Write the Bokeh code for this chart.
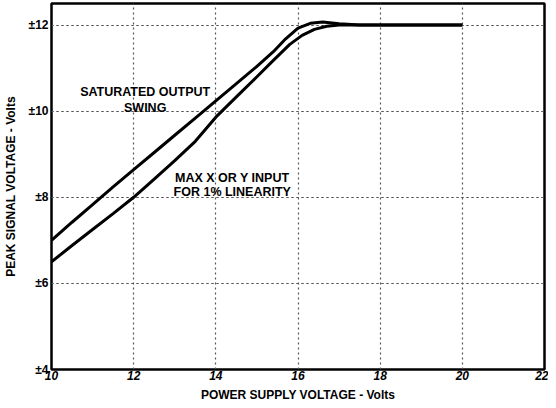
from bokeh.plotting import figure
from bokeh.models import FixedTicker, Range1d
from bokeh.core.properties import value
from bokeh.embed import file_html
from bokeh.resources import INLINE

# Data
supply_v = [10, 10.5, 11, 11.5, 12, 12.5, 13, 13.5, 14, 14.5, 15, 15.4, 15.7,
            16.0, 16.3, 16.6, 17.0, 17.5, 20.0]
saturated_swing = [7.0, 7.42, 7.83, 8.24, 8.64, 9.04, 9.44, 9.84, 10.24, 10.64,
                   11.04, 11.38, 11.68, 11.93, 12.04, 12.07, 12.03, 12.0, 12.0]

supply_v2 = [10, 10.5, 11, 11.5, 12, 12.5, 13, 13.5, 14, 14.5, 15, 15.4, 15.8,
             16.1, 16.4, 16.7, 17.0, 17.5, 20.0]
max_input = [6.5, 6.88, 7.25, 7.62, 8.0, 8.42, 8.85, 9.3, 9.86, 10.33, 10.8,
             11.18, 11.55, 11.76, 11.9, 11.97, 12.0, 12.0, 12.0]

x_ticks = [10, 12, 14, 16, 18, 20, 22]
y_ticks = [4, 6, 8, 10, 12]
y_tick_labels = {4: "±4", 6: "±6", 8: "±8", 10: "±10", 12: "±12"}

label_texts = ["SATURATED OUTPUT", "SWING", "MAX X OR Y INPUT", "FOR 1% LINEARITY"]
label_x = [12.28, 12.28, 14.4, 14.4]
label_y = [10.44, 10.08, 8.44, 8.12]

FONT = "Liberation Sans"

p = figure(width=548, height=404, output_backend="svg", toolbar_location=None,
           x_range=Range1d(10, 22), y_range=Range1d(4, 12.5),
           min_border_left=44, min_border_right=4, min_border_top=3, min_border_bottom=20)
p.background_fill_color = "white"
p.border_fill_color = "white"
p.outline_line_color = "black"
p.outline_line_width = 2.5

for ax in (p.xaxis[0], p.yaxis[0]):
    ax.axis_line_color = None
    ax.major_tick_line_color = None
    ax.minor_tick_line_color = None
    ax.major_label_text_font = FONT
    ax.major_label_text_font_style = "bold"
    ax.major_label_text_font_size = "12px"
    ax.major_label_text_color = "black"
    ax.axis_label_text_font = FONT
    ax.axis_label_text_font_style = "bold"
    ax.axis_label_text_font_size = "12px"
    ax.axis_label_text_color = "black"

xt = FixedTicker(ticks=x_ticks)
yt = FixedTicker(ticks=y_ticks)
p.xaxis.ticker = xt
p.yaxis.ticker = yt
p.xgrid.ticker = xt
p.ygrid.ticker = yt
p.yaxis.major_label_overrides = y_tick_labels
p.xaxis.major_label_text_font_style = "bold italic"
p.xaxis.major_label_standoff = 1
p.yaxis.major_label_standoff = 3
p.xaxis.major_tick_out = 0
p.yaxis.major_tick_out = 0
p.xaxis.axis_label = "POWER SUPPLY VOLTAGE - Volts"
p.yaxis.axis_label = "PEAK SIGNAL VOLTAGE - Volts"
p.xaxis.axis_label_standoff = 5
p.yaxis.axis_label_standoff = 8

for g in (p.xgrid[0], p.ygrid[0]):
    g.grid_line_color = "#555555"
    g.grid_line_width = 1.2
    g.grid_line_dash = "2 3"
    g.grid_line_alpha = 1.0

# horizontal dotted reference lines at the y ticks
p.hspan(y=y_ticks[1:-1] + [y_ticks[-1]], line_color="#555555", line_width=1.2,
        line_dash="2 3")

p.line(supply_v, saturated_swing, line_color="black", line_width=3)
p.line(supply_v2, max_input, line_color="black", line_width=3)

p.text(x=label_x, y=label_y, text=label_texts, text_font=value(FONT),
       text_font_style="bold", text_font_size="12.5px", text_align="center",
       text_baseline="middle", text_color="black")

open("out.html", "w").write(file_html(p, INLINE))
